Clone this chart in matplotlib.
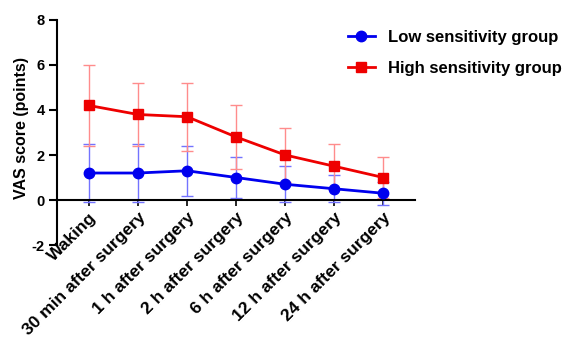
import matplotlib
matplotlib.use("Agg")
import matplotlib.pyplot as plt
import numpy as np

plt.rcParams['font.family'] = ['Liberation Sans', 'DejaVu Sans']
plt.rcParams['font.weight'] = 'bold'

categories = ["Waking", "30 min after surgery", "1 h after surgery", "2 h after surgery",
              "6 h after surgery", "12 h after surgery", "24 h after surgery"]
low_mean = [1.2, 1.2, 1.3, 1.0, 0.7, 0.5, 0.3]
low_sd = [1.3, 1.3, 1.1, 0.9, 0.8, 0.6, 0.5]
high_mean = [4.2, 3.8, 3.7, 2.8, 2.0, 1.5, 1.0]
high_sd = [1.8, 1.4, 1.5, 1.4, 1.2, 1.0, 0.9]
yticks = [-2, 0, 2, 4, 6, 8]

fig = plt.figure(figsize=(5.76, 3.38), dpi=100)
ax = fig.add_axes([0.099, 0.275, 0.622, 0.666])
x = np.arange(len(categories))

ax.spines['top'].set_visible(False)
ax.spines['right'].set_visible(False)
ax.spines['bottom'].set_position(('data', 0))
ax.spines['left'].set_linewidth(1.5)
ax.spines['bottom'].set_linewidth(1.5)

ax.errorbar(x, low_mean, yerr=low_sd, fmt='none', ecolor=(0.45, 0.45, 1.0), elinewidth=1.0,
            capsize=4, capthick=1.0, zorder=2)
ax.errorbar(x, high_mean, yerr=high_sd, fmt='none', ecolor=(1.0, 0.55, 0.55), elinewidth=1.0,
            capsize=4, capthick=1.0, zorder=2)
ax.plot(x, low_mean, color='#0000ee', marker='o', markersize=7.5, linewidth=2,
        label='Low sensitivity group', zorder=3)
ax.plot(x, high_mean, color='#ee0000', marker='s', markersize=7.5, linewidth=2,
        label='High sensitivity group', zorder=3)

ax.set_xlim(-0.65, 6.65)
ax.set_ylim(-2, 8)
ax.set_yticks(yticks)
ax.set_yticklabels([str(v) for v in yticks], fontsize=10.5, fontweight='bold')
ax.set_xticks(x)
ax.set_xticklabels(categories, fontsize=12.5, fontweight='bold')
ax.tick_params(axis='x', direction='out', length=4, width=1.2, pad=3)
ax.tick_params(axis='y', direction='out', length=6, width=1.5, pad=3)
for lbl in ax.get_xticklabels():
    lbl.set_rotation(45)
    lbl.set_ha('right')
    lbl.set_rotation_mode('anchor')

ax.set_ylabel('VAS score (points)', fontsize=11.5, fontweight='bold')
ax.yaxis.set_label_coords(-0.078, 0.52)

leg = fig.legend(loc='upper left', bbox_to_anchor=(0.578, 0.955), frameon=False,
                 prop={'weight': 'bold', 'size': 12}, labelspacing=0.95,
                 handlelength=1.6, handletextpad=0.8)

fig.savefig('out.png', dpi=100)
